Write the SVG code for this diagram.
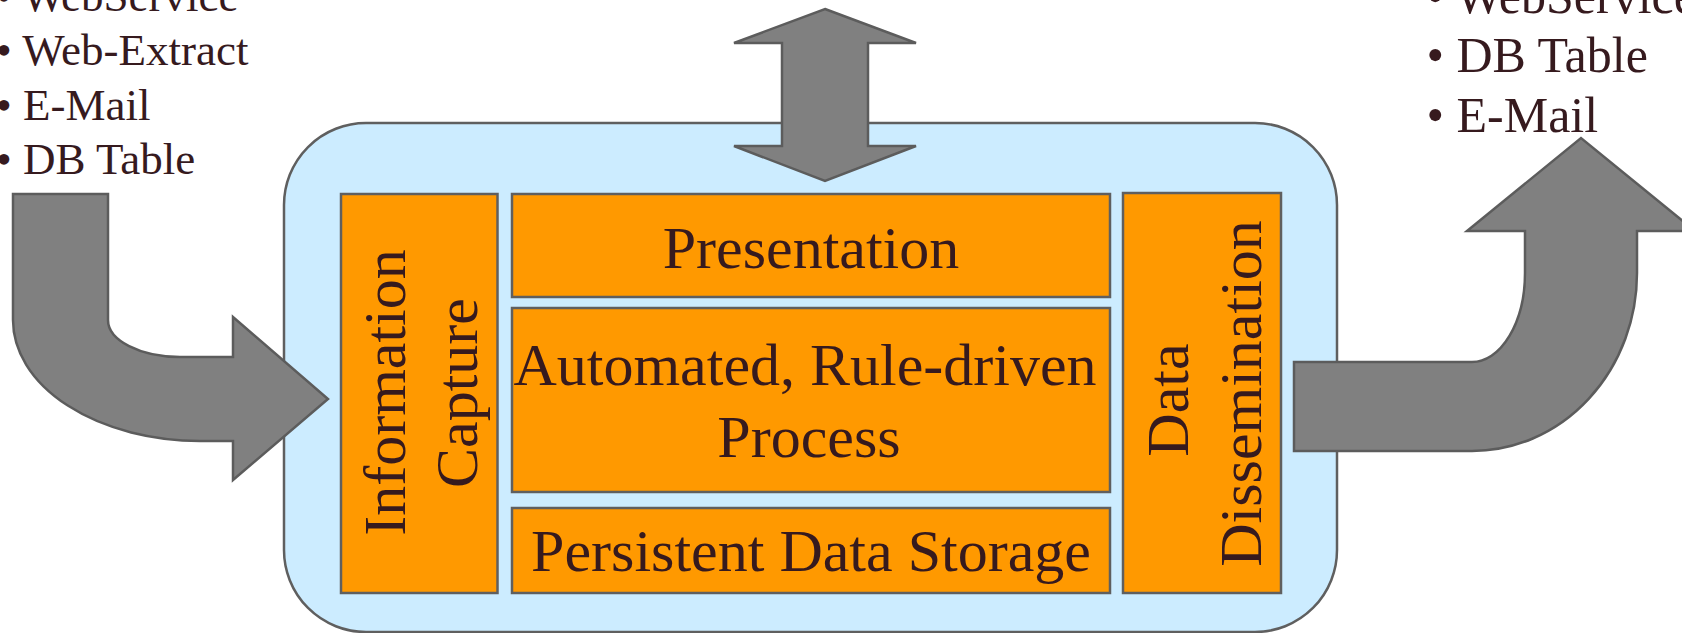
<svg xmlns="http://www.w3.org/2000/svg" width="1682" height="633" viewBox="0 0 1682 633">
<style>
  text { font-family: "Liberation Serif", "Times New Roman", serif; fill: #361a1e; }
  .box { fill: #FF9900; stroke: #5f5f5f; stroke-width: 2.5; }
  .arrow { fill: #808080; stroke: #5c5c5c; stroke-width: 2.5; stroke-linejoin: miter; }
  .lbl { font-size: 60px; text-anchor: middle; }
  .listL { font-size: 45px; }
  .listR { font-size: 50px; }
</style>
<rect width="1682" height="633" fill="#ffffff"/>
<g id="container">
  <rect x="284" y="123" width="1053" height="509" rx="82" ry="82" fill="#CCECFF" stroke="#5f5f5f" stroke-width="2.5"/>
</g>
<g id="input-list">
  <text class="listL" x="-4" y="11">• WebService</text>
  <text class="listL" x="-4" y="65">• Web-Extract</text>
  <text class="listL" x="-4" y="119.5">• E-Mail</text>
  <text class="listL" x="-4" y="174">• DB Table</text>
</g>
<g id="output-list">
  <text class="listR" x="1426.5" y="12.5">• WebService</text>
  <text class="listR" x="1426.5" y="72">• DB Table</text>
  <text class="listR" x="1426.5" y="132">• E-Mail</text>
</g>
<g id="information-capture">
  <rect class="box" x="341" y="194" width="156.5" height="399"/>
  <text class="lbl" transform="translate(405,392.5) rotate(-90)">Information</text>
  <text class="lbl" transform="translate(477,393) rotate(-90)">Capture</text>
</g>
<g id="presentation">
  <rect class="box" x="512" y="194" width="598" height="103"/>
  <text class="lbl" x="811" y="268">Presentation</text>
</g>
<g id="automated-process">
  <rect class="box" x="512" y="308" width="598" height="184"/>
  <text class="lbl" x="805" y="385">Automated, Rule-driven</text>
  <text class="lbl" x="809" y="457">Process</text>
</g>
<g id="persistent-storage">
  <rect class="box" x="512" y="508" width="598" height="85"/>
  <text class="lbl" x="811" y="571">Persistent Data Storage</text>
</g>
<g id="data-dissemination">
  <rect class="box" x="1123" y="193" width="158" height="400"/>
  <text class="lbl" transform="translate(1188,400) rotate(-90)">Data</text>
  <text class="lbl" transform="translate(1261,393.5) rotate(-90)">Dissemination</text>
</g>
<g id="connectors">
  <path class="arrow" d="M 13 194 L 108 194 L 108 320 A 72 37 0 0 0 180 357 L 233 357 L 233 317 L 328 399 L 233 480 L 233 441 L 200 441 A 187 121 0 0 1 13 320 Z"/>
  <path class="arrow" d="M 825 9 L 916 43 L 868 43 L 868 146 L 916 146 L 825 181 L 734 146 L 782 146 L 782 43 L 734 43 Z"/>
  <path class="arrow" d="M 1294 362 L 1472 362 A 53 89 0 0 0 1525 273 L 1525 231 L 1467 231 L 1581 138 L 1695 231 L 1637 231 L 1637 273 A 165 178 0 0 1 1472 451 L 1294 451 Z"/>
</g>
</svg>
